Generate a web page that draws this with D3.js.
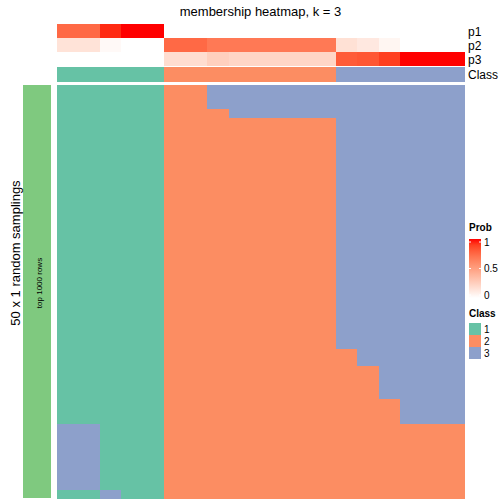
<!DOCTYPE html>
<html><head><meta charset="utf-8">
<script src="https://cdn.jsdelivr.net/npm/d3@7"></script>
<style>body{margin:0;background:#fff}svg{display:block;font-family:"Liberation Sans",Arial,sans-serif}rect.cell{shape-rendering:crispEdges}</style>
</head><body><svg id="c" width="504" height="504"></svg>
<script>
const p1 = [0.75,0.75,0.95,1,1, 0,0,0,0,0,0,0,0, 0,0,0,0,0,0];
const p2 = [0.15,0.15,0.03,0,0, 0.75,0.75,0.68,0.68,0.68,0.68,0.68,0.68, 0.16,0.12,0.05,0,0,0];
const p3 = [0,0,0,0,0, 0.18,0.18,0.25,0.22,0.22,0.22,0.22,0.22, 0.8,0.82,0.9,1,1,1];
const colClass = [1,1,1,1,1, 2,2,2,2,2,2,2,2, 3,3,3,3,3,3];
const annRows = ["p1","p2","p3"];
const classLevels = [1,2,3];
const classColors = ["#66C2A5","#FC8D62","#8DA0CB"];
const probTicks = [0,0.5,1];
// 50 sampling rows x 19 columns, class per cell
const samplingRows = [
"1111122333333333333","1111122333333333333","1111122333333333333",
"1111122233333333333",
"1111122222222333333","1111122222222333333","1111122222222333333","1111122222222333333",
"1111122222222333333","1111122222222333333","1111122222222333333","1111122222222333333",
"1111122222222333333","1111122222222333333","1111122222222333333","1111122222222333333",
"1111122222222333333","1111122222222333333","1111122222222333333","1111122222222333333",
"1111122222222333333","1111122222222333333","1111122222222333333","1111122222222333333",
"1111122222222333333","1111122222222333333","1111122222222333333","1111122222222333333",
"1111122222222333333","1111122222222333333","1111122222222333333","1111122222222333333",
"1111122222222233333","1111122222222233333",
"1111122222222223333","1111122222222223333","1111122222222223333","1111122222222223333",
"1111122222222222333","1111122222222222333","1111122222222222333",
"3311122222222222222","3311122222222222222","3311122222222222222","3311122222222222222",
"3311122222222222222","3311122222222222222","3311122222222222222","3311122222222222222",
"1131122222222222222"
];

const svg = d3.select("#c");
const nCol = p1.length;
const cols = d3.range(nCol);
const x = d3.scaleBand().domain(cols).range([57, 464.5]);
const probColor = d3.scaleLinear().domain([0,1]).range(["#FFFFFF","#FF0000"]).interpolate(d3.interpolateLab);
const classColor = d3.scaleOrdinal().domain(classLevels).range(classColors);

// title
svg.append("text").attr("x", 260.5).attr("y", 16).attr("text-anchor","middle")
  .attr("font-size", 13).text("membership heatmap, k = 3");

// probability annotation
const yAnn = d3.scaleBand().domain(annRows).range([24, 66]);
const probData = [p1,p2,p3];
annRows.forEach((r, i) => {
  svg.append("g").selectAll("rect").data(cols).join("rect").attr("class","cell")
    .attr("x", d => x(d)).attr("y", yAnn(r))
    .attr("width", x.bandwidth()+0.5).attr("height", yAnn.bandwidth()+0.3)
    .attr("fill", d => probColor(probData[i][d]));
  svg.append("text").attr("x", 468).attr("y", yAnn(r)+yAnn.bandwidth()/2+4.5)
    .attr("font-size", 12).text(r);
});
// class annotation
svg.append("g").selectAll("rect").data(cols).join("rect").attr("class","cell")
  .attr("x", d => x(d)).attr("y", 67).attr("width", x.bandwidth()+0.5).attr("height", 15)
  .attr("fill", d => classColor(colClass[d]));
svg.append("text").attr("x", 468).attr("y", 79).attr("font-size", 12).text("Class");

// main heatmap
const y = d3.scaleBand().domain(d3.range(samplingRows.length)).range([84.5, 498]);
const cells = [];
samplingRows.forEach((s, r) => s.split("").forEach((c, j) => cells.push({r, j, c:+c})));
svg.append("g").selectAll("rect").data(cells).join("rect").attr("class","cell")
  .attr("x", d => x(d.j)).attr("y", d => y(d.r))
  .attr("width", x.bandwidth()+0.5).attr("height", y.bandwidth()+0.5)
  .attr("fill", d => classColor(d.c));

// left row annotation
svg.append("rect").attr("class","cell").attr("x", 23).attr("y", 84.5).attr("width", 28).attr("height", 413.5).attr("fill", "#7FC97F");
svg.append("text").attr("transform", "translate(42,283) rotate(-90)").attr("text-anchor","middle")
  .attr("font-size", 8).text("top 1000 rows");
svg.append("text").attr("transform", "translate(20,253) rotate(-90)").attr("text-anchor","middle")
  .attr("font-size", 13).text("50 x 1 random samplings");

// Prob legend
svg.append("text").attr("x", 469).attr("y", 231).attr("font-size", 10).attr("font-weight","bold").text("Prob");
const defs = svg.append("defs");
const grad = defs.append("linearGradient").attr("id","pg").attr("x1",0).attr("y1",1).attr("x2",0).attr("y2",0);
d3.range(0,1.0001,0.1).forEach(t => grad.append("stop").attr("offset", t).attr("stop-color", probColor(t)));
const yLeg = d3.scaleLinear().domain([0,1]).range([295, 242]);
svg.append("rect").attr("x", 469).attr("y", 239).attr("width", 12).attr("height", 59).attr("fill","url(#pg)");
probTicks.forEach(t => {
  svg.append("line").attr("x1",469).attr("x2",471).attr("y1",yLeg(t)).attr("y2",yLeg(t)).attr("stroke","#fff");
  svg.append("line").attr("x1",479).attr("x2",481).attr("y1",yLeg(t)).attr("y2",yLeg(t)).attr("stroke","#fff");
  svg.append("text").attr("x", 484).attr("y", yLeg(t)+3.5).attr("font-size", 10).text(t);
});

// Class legend
svg.append("text").attr("x", 469).attr("y", 317).attr("font-size", 10).attr("font-weight","bold").text("Class");
classLevels.forEach((c, i) => {
  svg.append("rect").attr("x", 469).attr("y", 323 + i*12).attr("width", 12).attr("height", 12).attr("fill", classColor(c));
  svg.append("text").attr("x", 484).attr("y", 333 + i*12).attr("font-size", 10).text(c);
});
</script></body></html>
